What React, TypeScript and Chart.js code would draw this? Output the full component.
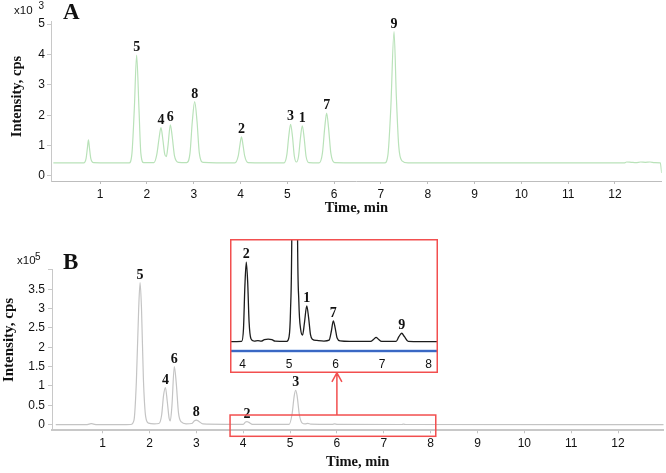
import React, { useEffect, useRef } from 'react';
import { Chart, registerables } from 'chart.js';

Chart.register(...registerables);

const SANS = '"Liberation Sans", Arial, sans-serif';
const SERIF = '"Liberation Serif", "Times New Roman", serif';

// ---------- Panel A (intensity x10^3 cps) ----------
const timesA = [
  0.0, 0.65, 0.7, 0.73, 0.75, 0.77, 0.8, 0.86,
  1.62, 1.68, 1.73, 1.78, 1.83, 1.87, 1.93,
  2.15, 2.21, 2.26, 2.3, 2.34, 2.38, 2.415, 2.45, 2.5, 2.54, 2.59, 2.67,
  2.85, 2.92, 2.97, 3.02, 3.07, 3.12, 3.2,
  3.88, 3.95, 3.99, 4.02, 4.05, 4.09, 4.16,
  4.93, 4.99, 5.03, 5.07, 5.11, 5.15, 5.195, 5.24, 5.28, 5.32, 5.36, 5.4, 5.46,
  5.68, 5.75, 5.8, 5.84, 5.88, 5.93, 6.01,
  7.08, 7.15, 7.21, 7.28, 7.33, 7.38, 7.45, 7.58,
  12.2, 12.25, 12.35, 12.45, 12.55, 12.65, 12.75, 12.85, 12.97, 13.0,
];
const valuesA = [
  0.43, 0.43, 0.58, 0.95, 1.19, 0.95, 0.58, 0.44,
  0.43, 0.75, 2.2, 3.98, 2.2, 0.75, 0.44,
  0.44, 0.7, 1.25, 1.59, 1.2, 0.72, 0.64, 1.0, 1.68, 1.3, 0.65, 0.45,
  0.44, 0.75, 1.8, 2.45, 1.8, 0.75, 0.45,
  0.43, 0.65, 1.05, 1.29, 1.05, 0.65, 0.44,
  0.43, 0.7, 1.3, 1.7, 1.3, 0.65, 0.46, 0.65, 1.25, 1.65, 1.25, 0.65, 0.44,
  0.43, 0.75, 1.6, 2.07, 1.6, 0.75, 0.44,
  0.43, 0.7, 2.2, 4.75, 2.6, 1.0, 0.5, 0.43,
  0.43, 0.46, 0.45, 0.44, 0.46, 0.45, 0.46, 0.44, 0.43, 0.1,
];
const peakNamesA = ['5', '4', '6', '8', '2', '3', '1', '7', '9'];
const peakTimesA = [1.78, 2.3, 2.5, 3.02, 4.02, 5.07, 5.32, 5.84, 7.28];
const peakHeightsA = [3.98, 1.59, 1.68, 2.45, 1.29, 1.7, 1.65, 2.07, 4.75];
const yTicksA = [0, 1, 2, 3, 4, 5];

// ---------- Panel B (intensity x10^5 cps) ----------
const timesB = [
  0.0, 0.65, 0.71, 0.76, 0.81, 0.88,
  1.6, 1.67, 1.72, 1.77, 1.8, 1.83, 1.87, 1.92, 1.98, 2.1,
  2.2, 2.26, 2.3, 2.34, 2.38, 2.42, 2.445, 2.48, 2.53, 2.57, 2.62, 2.68, 2.78,
  2.9, 2.96, 3.0, 3.05, 3.14, 3.6,
  4.0, 4.05, 4.08, 4.12, 4.2,
  4.98, 5.04, 5.09, 5.12, 5.15, 5.2, 5.26, 5.32, 5.38, 5.44,
  5.9, 5.95, 6.01, 7.38, 7.42, 7.47, 13.0,
];
const valuesB = [
  0.0, 0.0, 0.015, 0.03, 0.015, 0.0,
  0.005, 0.12, 1.1, 3.0, 3.67, 3.0, 1.2, 0.2, 0.04, 0.02,
  0.03, 0.25, 0.75, 0.96, 0.6, 0.16, 0.1, 0.5, 1.5, 1.1, 0.3, 0.07, 0.02,
  0.03, 0.1, 0.12, 0.09, 0.02, 0.01,
  0.01, 0.07, 0.08, 0.06, 0.01,
  0.01, 0.25, 0.75, 0.89, 0.75, 0.25, 0.04, 0.02, 0.036, 0.015,
  0.01, 0.021, 0.01, 0.005, 0.012, 0.005, 0.0,
];
const peakNamesB = ['5', '4', '6', '8', '2', '3'];
const peakTimesB = [1.8, 2.34, 2.53, 3.0, 4.08, 5.12];
const peakHeightsB = [3.67, 0.96, 1.5, 0.12, 0.08, 0.89];
const yTicksB = [0, 0.5, 1, 1.5, 2, 2.5, 3, 3.5, 4];
const yTickLabelsB = ['0', '0.5', '1', '1.5', '2', '2.5', '3', '3.5', ''];

// ---------- Inset (zoom of panel B, intensity x10^3 cps) ----------
const timesInset = [
  3.7, 3.98, 4.02, 4.05, 4.08, 4.11, 4.14, 4.18, 4.25, 4.33, 4.4, 4.47, 4.55, 4.63, 4.7,
  4.95, 5.0, 5.03, 5.06, 5.12, 5.18, 5.21, 5.25, 5.29, 5.33, 5.38, 5.42, 5.46, 5.5, 5.6, 5.75,
  5.86, 5.91, 5.95, 5.99, 6.03, 6.1, 6.3,
  6.75, 6.82, 6.87, 6.92, 6.99, 7.3, 7.36, 7.42, 7.48, 7.56, 8.2,
];
const valuesInset = [
  0.0, 0.03, 1.3, 5.6, 8.0, 6.0, 2.0, 0.3, 0.05, 0.1, 0.05, 0.2, 0.25, 0.2, 0.05,
  0.03, 0.5, 3.0, 12, 89, 12, 4, 1.2, 0.67, 1.9, 3.6, 2.4, 0.7, 0.25, 0.12, 0.06,
  0.15, 1.1, 2.1, 1.4, 0.4, 0.08, 0.03,
  0.03, 0.24, 0.44, 0.24, 0.03, 0.03, 0.5, 0.85, 0.5, 0.03, 0.0,
];
const peakNamesInset = ['2', '1', '7', '9'];
const peakTimesInset = [4.08, 5.38, 5.95, 7.42];
const peakHeightsInset = [8.0, 3.6, 2.1, 0.85];
const insetTicks = [4, 5, 6, 7, 8];

// zoom window shown in the inset (time range, x10^5 cps range) and arrow
const zoomTimes = [3.72, 8.11];
const zoomLevels = [-0.3, 0.25];
const arrowTime = 6.0;
const arrowTop = 1.34;

const xTicks = [1, 2, 3, 4, 5, 6, 7, 8, 9, 10, 11, 12];

const toPoints = (xs: number[], ys: number[]) => xs.map((x, i) => ({ x, y: ys[i] }));
const fixedTicks = (values: number[]) => (scale: any) => {
  scale.ticks = values.map((v) => ({ value: v }));
};

const peakLabelPlugin = (id: string, names: string[], times: number[], heights: number[]) => ({
  id,
  afterDatasetsDraw(chart: any) {
    const { ctx, scales } = chart;
    ctx.save();
    ctx.font = `bold 14px ${SERIF}`;
    ctx.fillStyle = '#111';
    ctx.textAlign = 'center';
    ctx.textBaseline = 'alphabetic';
    names.forEach((n, i) => {
      const x = scales.x.getPixelForValue(times[i]);
      const y = scales.y.getPixelForValue(heights[i]);
      ctx.fillText(n, x, y - 4);
    });
    ctx.restore();
  },
});

const decorPlugin = (id: string, opts: { letter: string; exp: string; letterX: number; letterY: number; xX: number; xY: number; expX: number; expY: number; titleX: number; titleY: number; titleSize: number }) => ({
  id,
  afterDraw(chart: any) {
    const { ctx } = chart;
    ctx.save();
    ctx.fillStyle = '#111';
    ctx.textBaseline = 'alphabetic';
    ctx.textAlign = 'left';
    ctx.font = `bold 23px ${SERIF}`;
    ctx.fillText(opts.letter, opts.letterX, opts.letterY);
    ctx.font = `11.5px ${SANS}`;
    ctx.fillText('x10', opts.xX, opts.xY);
    ctx.font = `10px ${SANS}`;
    ctx.fillText(opts.exp, opts.expX, opts.expY);
    ctx.translate(opts.titleX, opts.titleY);
    ctx.rotate(-Math.PI / 2);
    ctx.textAlign = 'center';
    ctx.textBaseline = 'middle';
    ctx.font = `bold ${opts.titleSize}px ${SERIF}`;
    ctx.fillText('Intensity, cps', 0, 0);
    ctx.restore();
  },
});

const zoomPlugin = {
  id: 'zoomBox',
  afterDraw(chart: any) {
    const { ctx, scales } = chart;
    const x0 = scales.x.getPixelForValue(zoomTimes[0]);
    const x1 = scales.x.getPixelForValue(zoomTimes[1]);
    const y0 = scales.y.getPixelForValue(zoomLevels[1]);
    const y1 = scales.y.getPixelForValue(zoomLevels[0]);
    const ax = scales.x.getPixelForValue(arrowTime);
    const ay = scales.y.getPixelForValue(arrowTop);
    ctx.save();
    ctx.strokeStyle = '#f24f4f';
    ctx.lineWidth = 1.5;
    ctx.strokeRect(x0, y0, x1 - x0, y1 - y0);
    ctx.beginPath();
    ctx.moveTo(ax, y0);
    ctx.lineTo(ax, ay);
    ctx.moveTo(ax - 5, ay + 9);
    ctx.lineTo(ax, ay);
    ctx.lineTo(ax + 5, ay + 9);
    ctx.stroke();
    ctx.restore();
  },
};

const insetFramePlugin = {
  id: 'insetFrame',
  beforeDraw(chart: any) {
    const { ctx, chartArea, width, height } = chart;
    ctx.save();
    ctx.fillStyle = '#ffffff';
    ctx.fillRect(0, 0, width, height);
    ctx.strokeStyle = 'rgba(130,165,230,0.35)';
    ctx.lineWidth = 4;
    ctx.beginPath();
    ctx.moveTo(chartArea.left, chartArea.bottom);
    ctx.lineTo(chartArea.right, chartArea.bottom);
    ctx.stroke();
    ctx.restore();
  },
  afterDraw(chart: any) {
    const { ctx, width, height } = chart;
    ctx.save();
    ctx.strokeStyle = '#f24f4f';
    ctx.lineWidth = 1.5;
    ctx.strokeRect(0.75, 0.75, width - 1.5, height - 1.5);
    ctx.restore();
  },
};

const tickFont = { family: SANS, size: 12 };
const xTitle = (pb: number) => ({
  display: true,
  text: 'Time, min',
  color: '#111',
  font: { family: SERIF, size: 14.5, weight: 'bold' as const },
  padding: { top: 0, bottom: pb },
});

export default function App() {
  const refA = useRef<HTMLCanvasElement>(null);
  const refB = useRef<HTMLCanvasElement>(null);
  const refI = useRef<HTMLCanvasElement>(null);

  useEffect(() => {
    const charts: Chart[] = [];

    charts.push(
      new Chart(refA.current as HTMLCanvasElement, {
        type: 'line',
        data: {
          datasets: [
            {
              data: toPoints(timesA, valuesA),
              borderColor: '#b9e2b9',
              borderWidth: 1.2,
              pointRadius: 0,
              cubicInterpolationMode: 'monotone',
              fill: false,
            },
          ],
        },
        options: {
          animation: false,
          responsive: false,
          events: [],
          layout: { padding: { top: 21, right: 4.3, left: 0, bottom: 0 } },
          plugins: { legend: { display: false }, tooltip: { enabled: false } },
          scales: {
            x: {
              type: 'linear',
              min: -0.05,
              max: 13,
              afterBuildTicks: fixedTicks(xTicks),
              afterFit: (s: any) => { s.height = 55; },
              grid: { display: true, drawOnChartArea: false, drawTicks: true, tickLength: 3, color: '#bdbdbd' },
              border: { display: true, color: '#bdbdbd', width: 1 },
              ticks: { padding: 3, font: tickFont, color: '#111', maxRotation: 0, autoSkip: false },
              title: xTitle(18.8),
            },
            y: {
              type: 'linear',
              min: -0.165,
              max: 5.1,
              afterBuildTicks: fixedTicks(yTicksA),
              afterFit: (s: any) => { s.width = 51; },
              grid: { display: true, drawOnChartArea: false, drawTicks: true, tickLength: 4, color: '#c8c8c8' },
              border: { display: true, color: '#c8c8c8', width: 1 },
              ticks: { padding: 2, font: tickFont, color: '#111', autoSkip: false },
            },
          },
        },
        plugins: [
          peakLabelPlugin('labelsA', peakNamesA, peakTimesA, peakHeightsA),
          decorPlugin('decorA', { letter: 'A', exp: '3', letterX: 63, letterY: 18.5, xX: 14, xY: 14, expX: 38.5, expY: 8.5, titleX: 17, titleY: 96.5, titleSize: 14.5 }),
        ],
      } as any)
    );

    charts.push(
      new Chart(refB.current as HTMLCanvasElement, {
        type: 'line',
        data: {
          datasets: [
            {
              data: toPoints(timesB, valuesB),
              borderColor: '#c4c4c4',
              borderWidth: 1.2,
              pointRadius: 0,
              cubicInterpolationMode: 'monotone',
              fill: false,
            },
          ],
        },
        options: {
          animation: false,
          responsive: false,
          events: [],
          layout: { padding: { top: 33.9, right: 2.5, left: 0, bottom: 0 } },
          plugins: { legend: { display: false }, tooltip: { enabled: false } },
          scales: {
            x: {
              type: 'linear',
              min: -0.08,
              max: 12.97,
              afterBuildTicks: fixedTicks(xTicks),
              afterFit: (s: any) => { s.height = 42.7; },
              grid: { display: true, drawOnChartArea: false, drawTicks: true, tickLength: 3, color: '#c4c4c4' },
              border: { display: true, color: '#c8c8c8', width: 2 },
              ticks: { padding: 3.5, font: tickFont, color: '#111', maxRotation: 0, autoSkip: false },
              title: xTitle(2.5),
            },
            y: {
              type: 'linear',
              min: -0.145,
              max: 4,
              afterBuildTicks: fixedTicks(yTicksB),
              afterFit: (s: any) => { s.width = 52; },
              grid: { display: true, drawOnChartArea: false, drawTicks: true, tickLength: 4, color: '#c8c8c8' },
              border: { display: true, color: '#c8c8c8', width: 1 },
              ticks: {
                padding: 3,
                font: tickFont,
                color: '#111',
                autoSkip: false,
                callback: (_v: any, i: number) => yTickLabelsB[i],
              },
            },
          },
        },
        plugins: [
          peakLabelPlugin('labelsB', peakNamesB, peakTimesB, peakHeightsB),
          zoomPlugin,
          decorPlugin('decorB', { letter: 'B', exp: '5', letterX: 63, letterY: 33.3, xX: 17, xY: 28.3, expX: 35, expY: 24, titleX: 9, titleY: 104, titleSize: 15 }),
        ],
      } as any)
    );

    charts.push(
      new Chart(refI.current as HTMLCanvasElement, {
        type: 'line',
        data: {
          datasets: [
            {
              data: toPoints(timesInset, valuesInset),
              borderColor: '#1c1c1c',
              borderWidth: 1.3,
              pointRadius: 0,
              cubicInterpolationMode: 'monotone',
              fill: false,
            },
          ],
        },
        options: {
          animation: false,
          responsive: false,
          events: [],
          layout: { padding: 0 },
          plugins: { legend: { display: false }, tooltip: { enabled: false } },
          scales: {
            x: {
              type: 'linear',
              min: 3.73,
              max: 8.19,
              afterBuildTicks: fixedTicks(insetTicks),
              afterFit: (s: any) => { s.height = 22; },
              grid: { display: false, drawOnChartArea: false, drawTicks: false },
              border: { display: true, color: '#3a68c4', width: 2 },
              ticks: { padding: 6, font: tickFont, color: '#111', maxRotation: 0, autoSkip: false },
            },
            y: {
              type: 'linear',
              display: false,
              min: -0.94,
              max: 10.34,
            },
          },
        },
        plugins: [insetFramePlugin, peakLabelPlugin('labelsI', peakNamesInset, peakTimesInset, peakHeightsInset)],
      } as any)
    );

    return () => charts.forEach((c) => c.destroy());
  }, []);

  return (
    <div style={{ position: 'fixed', left: 0, top: 0, width: 666, height: 473, background: '#fff' }}>
      <canvas ref={refA} width={666} height={236} style={{ position: 'absolute', left: 0, top: 0 }} />
      <canvas ref={refB} width={666} height={237} style={{ position: 'absolute', left: 0, top: 236 }} />
      <canvas ref={refI} width={208} height={134} style={{ position: 'absolute', left: 230, top: 239, zIndex: 2 }} />
    </div>
  );
}
